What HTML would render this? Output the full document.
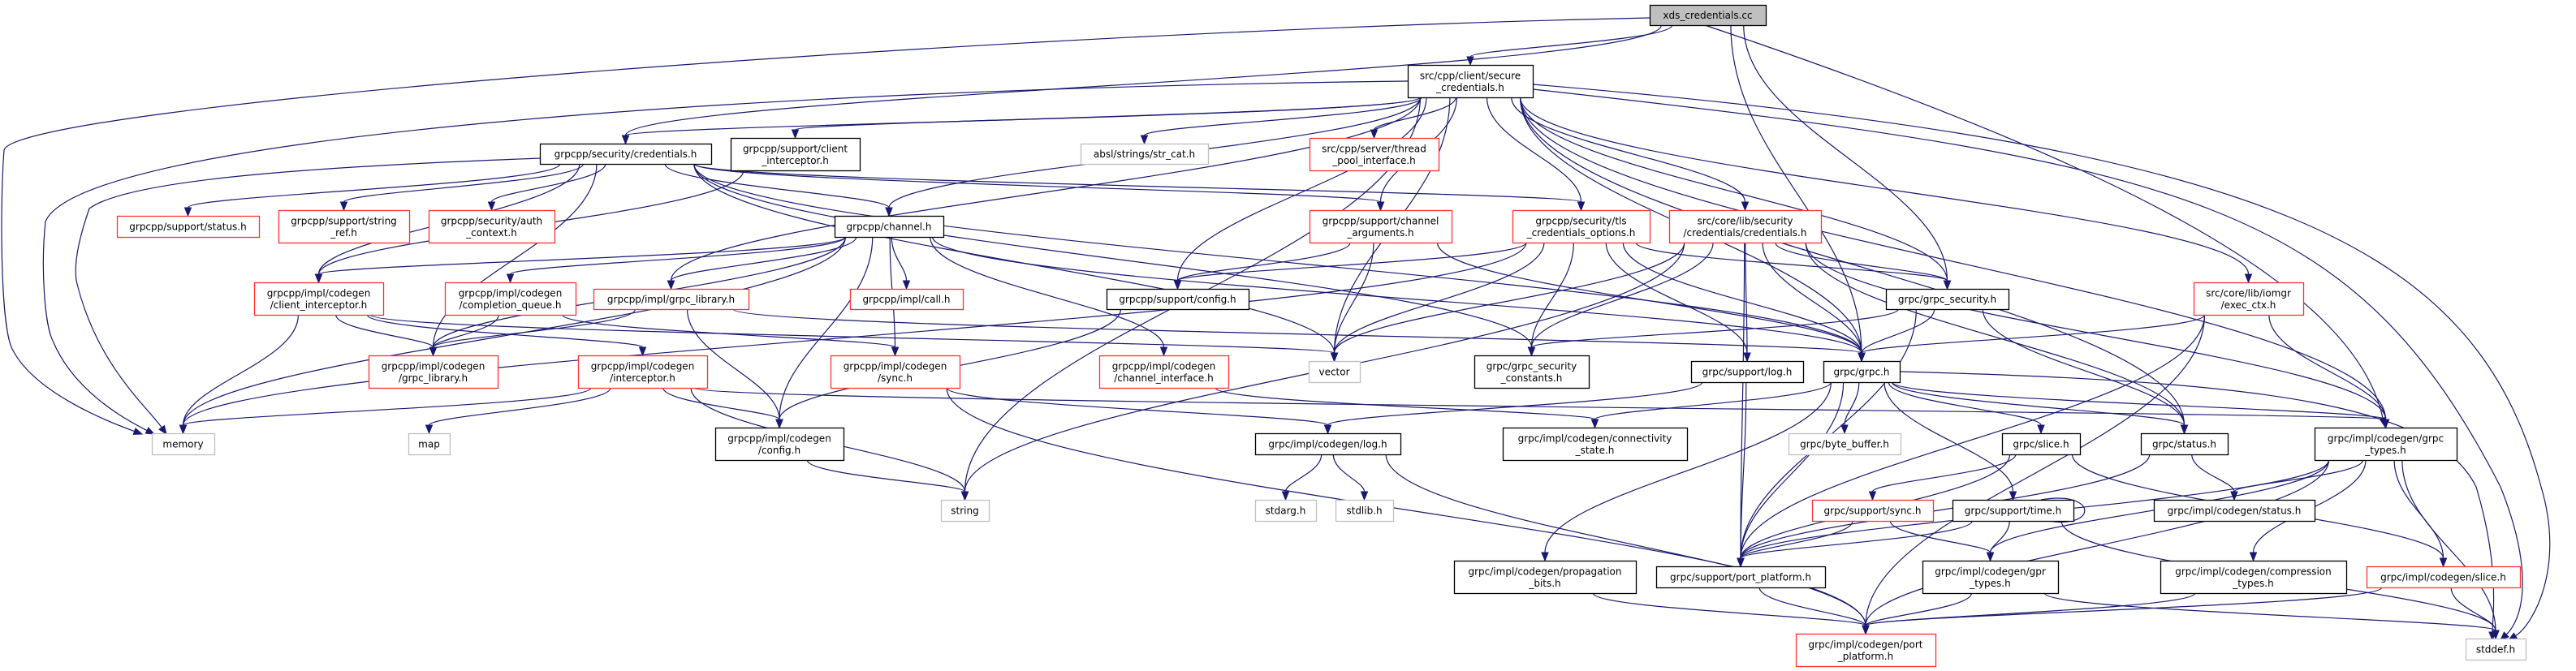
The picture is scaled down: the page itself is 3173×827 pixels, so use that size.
<!DOCTYPE html>
<html><head><meta charset="utf-8">
<style>
html,body{margin:0;padding:0;background:#fff;}
svg{display:block;}
text{font-family:"DejaVu Sans","Liberation Sans",sans-serif;font-size:12px;fill:#000;}
</style></head>
<body>
<svg id="g" width="3173" height="827" viewBox="0 0 3173 827" xmlns="http://www.w3.org/2000/svg">
<g id="edges" fill="none" stroke="#191970" stroke-width="1.2"></g>
<g id="heads" fill="#191970" stroke="#191970"></g>
<g id="nodes"></g>
</svg>
<script>
var N={
xds:[2032,6,143,25,'g',['xds_credentials.cc']],
sec:[1734,80,154,40,'b',['src/cpp/client/secure','_credentials.h']],
cred:[665,177,211,25,'b',['grpcpp/security/credentials.h']],
scli:[900,170,159,40,'b',['grpcpp/support/client','_interceptor.h']],
strcat:[1331,177,157,25,'y',['absl/strings/str_cat.h']],
tpool:[1613,170,159,40,'r',['src/cpp/server/thread','_pool_interface.h']],
sstatus:[144,266,175,26,'r',['grpcpp/support/status.h']],
sref:[343,259,161,40,'r',['grpcpp/support/string','_ref.h']],
auth:[528,259,155,40,'r',['grpcpp/security/auth','_context.h']],
chan:[1028,266,134,26,'b',['grpcpp/channel.h']],
chargs:[1613,259,175,40,'r',['grpcpp/support/channel','_arguments.h']],
tls:[1863,259,169,40,'r',['grpcpp/security/tls','_credentials_options.h']],
ccred:[2056,259,187,40,'r',['src/core/lib/security','/credentials/credentials.h']],
exec:[2702,348,135,40,'r',['src/core/lib/iomgr','/exec_ctx.h']],
cci:[313,348,159,40,'r',['grpcpp/impl/codegen','/client_interceptor.h']],
cq:[548,348,161,40,'r',['grpcpp/impl/codegen','/completion_queue.h']],
igl:[731,356,191,25,'r',['grpcpp/impl/grpc_library.h']],
call:[1047,356,139,25,'r',['grpcpp/impl/call.h']],
sconfig:[1363,356,175,25,'b',['grpcpp/support/config.h']],
gsec:[2323,356,151,25,'b',['grpc/grpc_security.h']],
cgl:[454,438,159,40,'r',['grpcpp/impl/codegen','/grpc_library.h']],
inter:[712,438,159,40,'r',['grpcpp/impl/codegen','/interceptor.h']],
csync:[1023,438,159,40,'r',['grpcpp/impl/codegen','/sync.h']],
chif:[1354,438,159,40,'r',['grpcpp/impl/codegen','/channel_interface.h']],
vector:[1612,445,63,26,'y',['vector']],
gconst:[1816,438,141,40,'b',['grpc/grpc_security','_constants.h']],
glog:[2083,445,138,26,'b',['grpc/support/log.h']],
grpch:[2246,445,94,26,'b',['grpc/grpc.h']],
memory:[187,534,77,26,'y',['memory']],
map:[503,534,51,26,'y',['map']],
cconfig:[881,527,158,40,'b',['grpcpp/impl/codegen','/config.h']],
clog:[1546,534,179,26,'b',['grpc/impl/codegen/log.h']],
conn:[1851,527,227,40,'b',['grpc/impl/codegen/connectivity','_state.h']],
byteb:[2203,534,138,26,'y',['grpc/byte_buffer.h']],
slice:[2466,534,96,26,'b',['grpc/slice.h']],
gstatus:[2637,534,107,26,'b',['grpc/status.h']],
gtypes:[2851,527,175,40,'b',['grpc/impl/codegen/grpc','_types.h']],
string:[1159,616,59,26,'y',['string']],
stdarg:[1546,616,75,26,'y',['stdarg.h']],
stdlib:[1645,616,71,26,'y',['stdlib.h']],
gsync:[2232,616,149,26,'r',['grpc/support/sync.h']],
time:[2405,616,149,26,'b',['grpc/support/time.h']],
cstatus:[2653,616,198,26,'b',['grpc/impl/codegen/status.h']],
prop:[1791,691,224,40,'b',['grpc/impl/codegen/propagation','_bits.h']],
sport:[2040,698,208,26,'b',['grpc/support/port_platform.h']],
gpr:[2368,691,167,40,'b',['grpc/impl/codegen/gpr','_types.h']],
compr:[2661,691,229,40,'b',['grpc/impl/codegen/compression','_types.h']],
cslice:[2915,698,189,26,'r',['grpc/impl/codegen/slice.h']],
cport:[2212,781,172,40,'r',['grpc/impl/codegen/port','_platform.h']],
stddef:[3037,787,74,26,'y',['stddef.h']]
};
var E=[
['xds','sec'],['xds','cred'],['xds','gsec'],['xds','grpch'],
['sec','cred'],['sec','scli'],['sec','strcat'],['sec','tpool'],['sec','chargs'],['sec','tls'],['sec','ccred'],['sec','exec'],['sec','chan'],['sec','sconfig'],['sec','igl'],['sec','string'],['sec','vector'],['sec','gsec'],['sec','grpch'],['sec','gstatus'],['sec','gtypes'],
['cred','sstatus'],['cred','sref'],['cred','auth'],['cred','chan'],['cred','chargs'],['cred','tls'],['cred','cci'],['cred','cgl'],['cred','vector'],['cred','grpch'],['cred','gconst'],
['scli','cci'],
['chan','cci'],['chan','cq'],['chan','igl'],['chan','call'],['chan','csync'],['chan','cconfig'],['chan','chif'],['chan','memory'],['chan','grpch'],['chan','cgl'],
['chargs','sconfig'],['chargs','vector'],['chargs','grpch'],
['tls','sconfig'],['tls','gconst'],['tls','glog'],['tls','vector'],['tls','grpch'],['tls','gsec'],['tls','memory'],
['ccred','gsec'],['ccred','gconst'],['ccred','glog'],['ccred','grpch'],['ccred','gstatus'],['ccred','gtypes'],['ccred','vector'],['ccred','string'],['ccred','sport'],
['exec','grpch'],['exec','gtypes'],['exec','sport'],['exec','cport'],
['gsec','grpch'],['gsec','gconst'],['gsec','gstatus'],['gsec','sport'],
['cci','memory'],['cci','cgl'],['cci','inter'],['cci','vector'],
['cq','cgl'],['cq','csync'],
['igl','cgl'],['igl','cconfig'],['igl','grpch'],
['sconfig','cconfig'],
['inter','memory'],['inter','map'],['inter','cconfig'],['inter','string'],['inter','gtypes'],
['csync','clog'],['csync','cport'],
['chif','conn'],
['cconfig','string'],
['clog','stdarg'],['clog','stdlib'],['clog','cport'],
['glog','sport'],['glog','clog'],
['grpch','sport'],['grpch','byteb'],['grpch','slice'],['grpch','gstatus'],['grpch','gtypes'],['grpch','conn'],['grpch','prop'],['grpch','time'],
['slice','cslice'],['slice','sport'],['slice','gsync'],
['gstatus','cstatus'],['gstatus','sport'],
['gtypes','cstatus'],['gtypes','gpr'],['gtypes','compr'],['gtypes','cslice'],['gtypes','stddef'],['gtypes','cport'],['gtypes','sport'],
['time','gpr'],['time','sport'],['time','stddef'],
['gsync','sport'],['gsync','gpr'],
['sport','cport'],['prop','cport'],['gpr','cport'],['gpr','stddef'],['compr','cport'],['cslice','cport'],['cslice','stddef']
];
var R=[
[2032,22, 1200,40, 20,130, 5,185, 0,250, 0,400, 15,430, 40,480, 120,515, 175,535],
[1734,100, 900,110, 100,170, 56,273, 50,330, 55,400, 65,420, 90,480, 150,515, 190,535],
[665,195, 400,205, 160,220, 110,257, 95,300, 90,330, 95,350, 120,450, 180,500, 205,535],
[2100,31, 2600,200, 2900,350, 2937,525],
[1888,104, 2800,180, 3050,300, 3130,600, 3160,700, 3120,770, 3090,789],
[1888,110, 2700,200, 2900,250, 3080,600, 3120,700, 3110,760, 3080,789],
[2340,458, 2800,470, 3000,500, 3050,600, 3080,700, 3070,760, 3070,789]
];
var NS='http://www.w3.org/2000/svg';
function el(t,a,p){var e=document.createElementNS(NS,t);for(var k in a)e.setAttribute(k,a[k]);p.appendChild(e);return e;}
var eg=document.getElementById('edges'),hg=document.getElementById('heads'),ng=document.getElementById('nodes');
function head(cx,cy,tx,ty){
 var ux=tx-cx,uy=ty-cy,L=Math.sqrt(ux*ux+uy*uy)||1;ux/=L;uy/=L;
 var bx=tx-ux*10,by=ty-uy*10,px=-uy,py=ux;
 el('polygon',{points:tx+','+ty+' '+(bx+px*4)+','+(by+py*4)+' '+(bx-px*4)+','+(by-py*4)},hg);
 return [bx,by];
}
E.forEach(function(e){
 var s=N[e[0]],t=N[e[1]];
 var sx=s[0]+s[2]/2,sy=s[1]+s[3];
 var tx=t[0]+t[2]/2,ty=t[1];
 if(ty<sy+5){ ty=t[1]+t[3]/2; tx=(t[0]>s[0])?t[0]:t[0]+t[2]; }
 var dx=tx-sx;
 sx=sx+Math.max(-s[2]/2.5,Math.min(s[2]/2.5,dx*0.15));
 var dy=ty-sy;
 var c1x=sx,c1y=sy+dy*0.4,c2x=tx,c2y=ty-dy*0.4;
 var b=head(c2x,c2y,tx,ty);
 el('path',{d:'M'+sx+','+sy+' C'+c1x+','+c1y+' '+c2x+','+c2y+' '+b[0]+','+b[1]},eg);
});
R.forEach(function(p){
 var n=p.length, tx=p[n-2],ty=p[n-1];
 var b=head(p[n-4],p[n-3],tx,ty);
 var d='M'+p[0]+','+p[1];
 for(var i=2;i<n;i+=6){
  var ex=(i+6>=n)?b[0]:p[i+4], ey=(i+6>=n)?b[1]:p[i+5];
  d+=' C'+p[i]+','+p[i+1]+' '+p[i+2]+','+p[i+3]+' '+ex+','+ey;
 }
 el('path',{d:d},eg);
});
var tm=N.time;
el('path',{d:'M'+(tm[0]+tm[2]-40)+','+tm[1]+' C'+(tm[0]+tm[2]+30)+','+(tm[1]-12)+' '+(tm[0]+tm[2]+30)+','+(tm[1]+tm[3]+10)+' '+(tm[0]+tm[2]-30)+','+(tm[1]+tm[3])},eg);
var col={g:['#bfbfbf','#000'],b:['#fff','#000'],r:['#fff','#ff3030'],y:['#fff','#bfbfbf']};
for(var k in N){var n=N[k];var c=col[n[4]];
 el('rect',{x:n[0]+0.5,y:n[1]+0.5,width:n[2],height:n[3],fill:c[0],stroke:c[1],'stroke-width':1.3},ng);
 var lines=n[5];var cx=n[0]+n[2]/2;
 lines.forEach(function(l,i){
  var y=n[1]+n[3]/2+4.5+(i-(lines.length-1)/2)*14.5;
  var t=el('text',{x:cx,y:y,'text-anchor':'middle'},ng);t.textContent=l;
 });
}
</script>
</body></html>
